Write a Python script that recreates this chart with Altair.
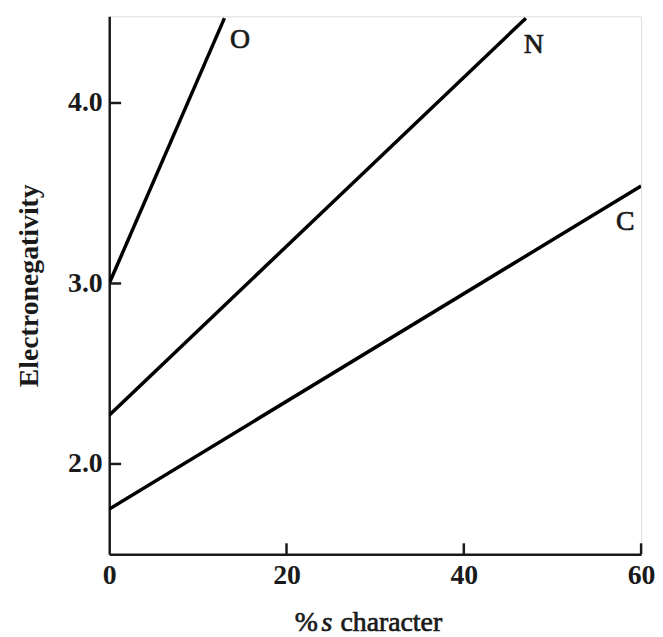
import altair as alt
import pandas as pd

# data
series = ["O", "O", "N", "N", "C", "C"]
s_char = [0, 13, 0, 47, 0, 60]
en_val = [3.0, 4.47, 2.27, 4.47, 1.75, 3.54]

label_text = ["O", "N", "C"]
label_x = [14.75, 47.9, 58.2]
label_y = [4.35, 4.32, 3.34]

x_ticks = [0, 20, 40, 60]
x_inner_ticks = [20, 40, 60]
y_ticks = [2.0, 3.0, 4.0]

W, H = 536, 542
FONT = "Liberation Serif"
INK = "#1a1a1a"

lines_df = pd.DataFrame({"series": series, "x": s_char, "y": en_val})
labels_df = pd.DataFrame({"t": label_text, "x": label_x, "y": label_y})
xt_df = pd.DataFrame({"v": x_inner_ticks})
yt_df = pd.DataFrame({"v": y_ticks})

xs = alt.Scale(domain=[0, 60], nice=False, zero=False)
ys = alt.Scale(domain=[1.5, 4.48], nice=False, zero=False)

lines = alt.Chart(lines_df).mark_line(color="black", strokeWidth=3.5, clip=True).encode(
    x=alt.X("x:Q", scale=xs, axis=alt.Axis(
        values=x_ticks, format="d", ticks=False, tickSize=0, grid=False,
        labelFlush=False,
        domainColor=INK, domainWidth=2.5, labelFont=FONT, labelFontSize=28,
        labelFontWeight="bold",
        labelColor=INK, labelPadding=8, title=None)),
    y=alt.Y("y:Q", scale=ys, axis=alt.Axis(
        values=y_ticks, format=".1f", ticks=False, tickSize=0, grid=False,
        labelFlush=False,
        domainColor=INK, domainWidth=2.5, labelFont=FONT, labelFontSize=28,
        labelFontWeight="bold",
        labelColor=INK, labelPadding=7, title="Electronegativity",
        titleFont=FONT, titleFontSize=28, titleFontWeight="bold",
        titleColor=INK, titleX=-80, titleY=H / 2, titleAngle=-90,
        titleAlign="center", titleBaseline="middle")),
    detail="series:N",
)

xticks = alt.Chart(xt_df).mark_rule(color=INK, strokeWidth=2.5).encode(
    x=alt.X("v:Q", scale=xs), y=alt.value(H), y2=alt.value(H - 11)
)
yticks = alt.Chart(yt_df).mark_rule(color=INK, strokeWidth=2.5).encode(
    y=alt.Y("v:Q", scale=ys), x=alt.value(0), x2=alt.value(12)
)

labels = alt.Chart(labels_df).mark_text(
    font=FONT, fontSize=28, color=INK, align="center", baseline="middle",
    stroke=INK, strokeWidth=0.7
).encode(x=alt.X("x:Q", scale=xs), y=alt.Y("y:Q", scale=ys), text="t:N")

# x-axis title with italic "s"
TY = 619
title_pct = alt.Chart(pd.DataFrame({"t": ["%"]})).mark_text(
    font=FONT, fontSize=28, color=INK, align="left", baseline="alphabetic",
    stroke=INK, strokeWidth=0.7
).encode(x=alt.value(187), y=alt.value(TY), text="t:N")
title_s = alt.Chart(pd.DataFrame({"t": ["s"]})).mark_text(
    font=FONT, fontSize=28, fontStyle="italic", color=INK, align="left", baseline="alphabetic",
    stroke=INK, strokeWidth=0.7
).encode(x=alt.value(214), y=alt.value(TY), text="t:N")
title_rest = alt.Chart(pd.DataFrame({"t": ["character"]})).mark_text(
    font=FONT, fontSize=28, color=INK, align="left", baseline="alphabetic",
    stroke=INK, strokeWidth=0.7
).encode(x=alt.value(233), y=alt.value(TY), text="t:N")

chart = alt.layer(lines, xticks, yticks, labels, title_pct, title_s, title_rest).properties(
    width=W, height=H,
    autosize=alt.AutoSizeParams(type="none"),
    padding={"left": 102, "top": 6, "right": 14, "bottom": 80},
).configure_view(stroke=None).configure(background="white")

chart.save("out.html", embed_options={"renderer": "svg", "actions": False})
